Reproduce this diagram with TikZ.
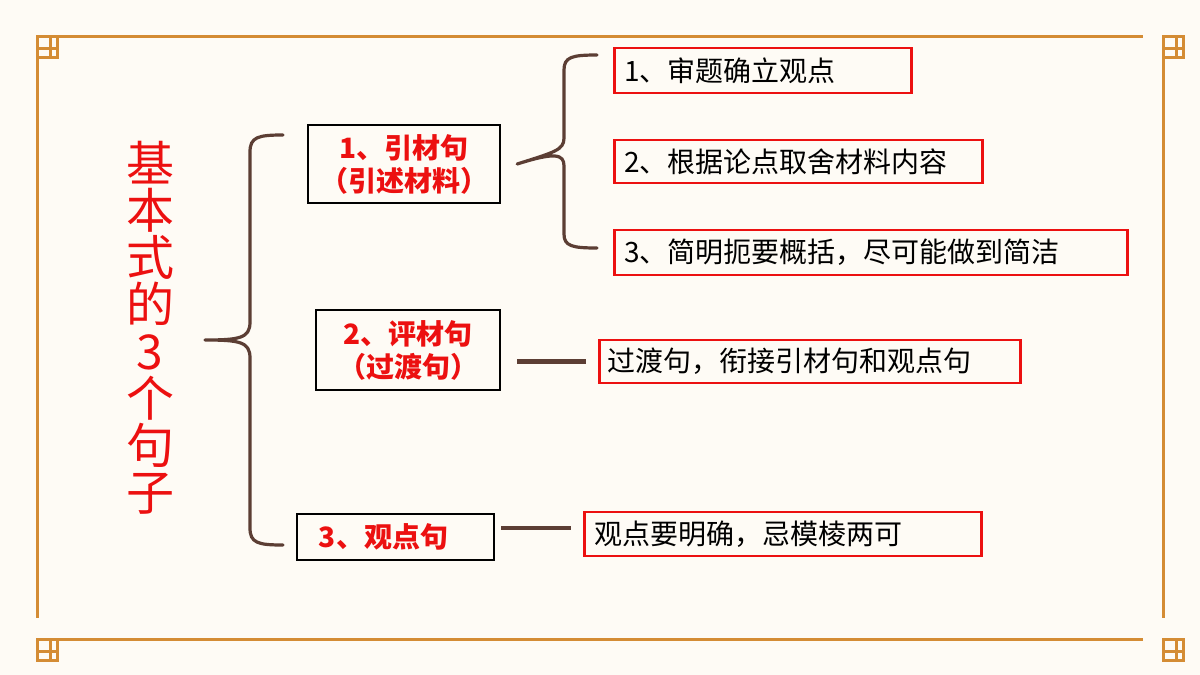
\documentclass[tikz,border=0pt]{standalone}
\usepackage{fontspec}
\newfontfamily\cjk{Noto Sans CJK SC}
\usetikzlibrary{positioning}

\definecolor{paper}{RGB}{254,251,245}
\definecolor{frameor}{RGB}{212,140,52}
\definecolor{brownln}{RGB}{92,62,52}
\definecolor{redtxt}{RGB}{236,16,16}

\tikzset{
  head/.style={draw=black, line width=2.4pt, text=redtxt, font=\cjk\fontsize{28}{33}\selectfont\bfseries, align=center, inner sep=0pt},
  note/.style={draw=redtxt, line width=2.6pt, font=\cjk\fontsize{28}{30}\selectfont, anchor=west, align=left, inner xsep=10pt, inner ysep=0pt},
  brace/.style={draw=brownln, line width=3.2pt, line cap=round},
  corner/.pic={
    \draw[frameor, line width=3pt] (0,0) rectangle (20,21) (13,0) -- (13,21) (0,12) -- (20,12);
  }
}

\begin{document}
\begin{tikzpicture}[x=1pt, y=-1pt]
  \fill[paper] (0,0) rectangle (1200,675);
  \useasboundingbox (0,0) rectangle (1200,675);

  % frame with corner knots
  \draw[frameor, line width=3pt] (57,36) -- (1143,36) (57,639) -- (1143,639)
    (37,57) -- (37,618) (1163,57) -- (1163,618);
  \pic at (37,36) {corner};
  \begin{scope}[shift={(1163,36)}, xscale=-1] \pic {corner}; \end{scope}
  \begin{scope}[shift={(37,639)}, yscale=-1] \pic {corner}; \end{scope}
  \begin{scope}[shift={(1163,639)}, xscale=-1, yscale=-1] \pic {corner}; \end{scope}

  % title
  \node[text=redtxt, font=\cjk\fontsize{48}{47}\selectfont, align=center] (title) at (150,328)
    {基\\本\\式\\的\\3\\个\\句\\子};

  % sentence kinds
  \node[head, minimum width=192, minimum height=78] (yin) at (404,164) {1、引材句\\（引述材料）};
  \node[head, minimum width=184, minimum height=80] (ping) at (408,350) {2、评材句\\（过渡句）};
  \node[head, minimum width=197, minimum height=46] (guan) at (395.5,537) {3、观点句\hspace*{24pt}};

  % notes
  \node[note, text width=277, minimum height=45] (n1) at (613,70.5) {1、审题确立观点};
  \node[note, text width=348, minimum height=43] (n2) at (613,161.5) {2、根据论点取舍材料内容};
  \node[note, text width=493, minimum height=45] (n3) at (613,252.5) {3、简明扼要概括，尽可能做到简洁};
  \node[note, text width=405, minimum height=43, inner xsep=8pt] (n4) at (598,361.5) {过渡句，衔接引材句和观点句};
  \node[note, text width=377, minimum height=44] (n5) at (583,534) {观点要明确，忌模棱两可};

  % braces
  \coordinate (b1) at (205,340);
  \draw[brace] (283,135) .. controls (258,135) and (250,137) .. (250,152) -- (250,322)
    .. controls (250,338) and (240,340) .. (b1)
    (b1) .. controls (240,340) and (250,342) .. (250,358) -- (250,528)
    .. controls (250,543) and (258,545) .. (283,545);
  \coordinate (b2) at ([xshift=16pt]yin.east);
  \draw[brace] (597,55) .. controls (572,55) and (564,57) .. (564,70) -- (564,138)
    .. controls (564,150) and (555,152) .. (b2)
    (b2) .. controls (555,152) and (564,154) .. (564,166) -- (564,234)
    .. controls (564,246) and (572,248) .. (597,248);

  % links
  \draw[brownln, line width=4.5pt] ([xshift=16pt]ping.east |- n4.west) -- ([xshift=-12pt]n4.west);
  \draw[brownln, line width=4.5pt] ([xshift=6pt]guan.east |- 0,528) -- ([xshift=-12pt]n5.west |- 0,528);
\end{tikzpicture}
\end{document}
